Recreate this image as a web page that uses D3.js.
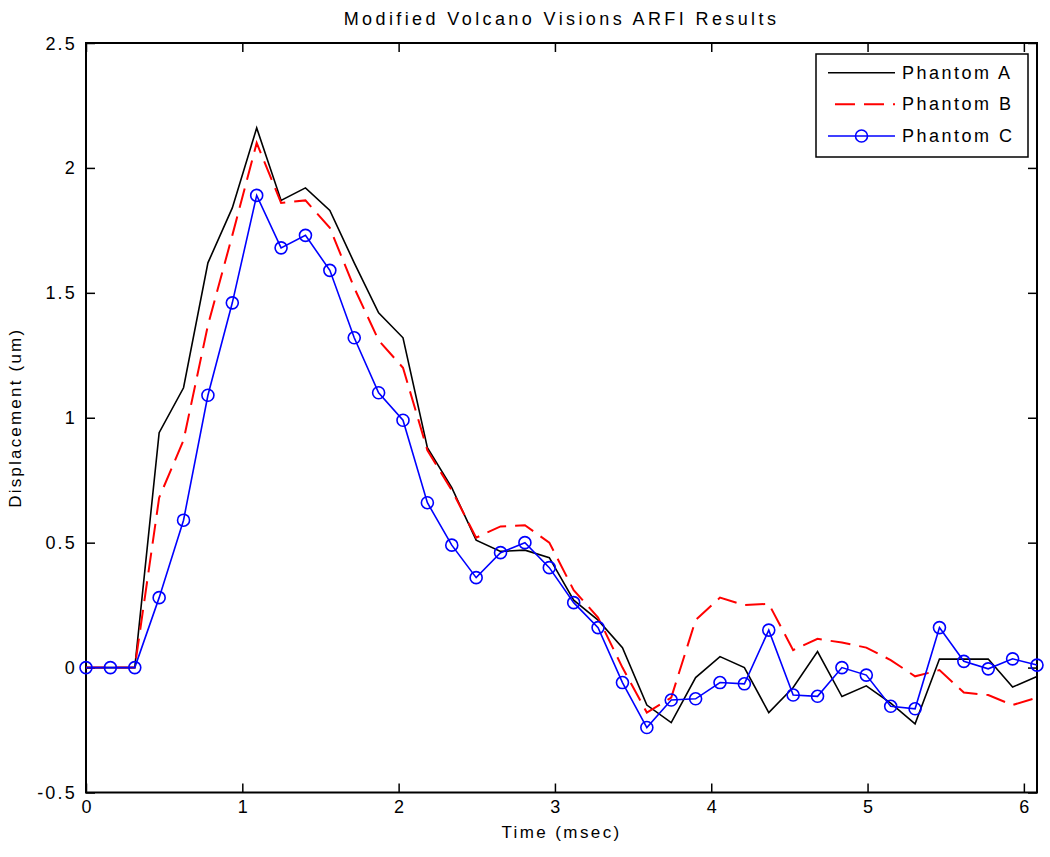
<!DOCTYPE html>
<html>
<head>
<meta charset="utf-8">
<script src="https://cdn.jsdelivr.net/npm/d3@7"></script>
<style>
  html, body { margin: 0; padding: 0; background: #fff; }
  svg text { font-family: "Liberation Sans", Arial, sans-serif; fill: #000; }
</style>
</head>
<body>
<svg id="chart" width="1050" height="857"></svg>
<script>
// ---- Data ----
const times = [0, 0.156, 0.312, 0.468, 0.624, 0.780, 0.936, 1.092, 1.248, 1.404,
  1.560, 1.716, 1.872, 2.028, 2.184, 2.340, 2.496, 2.652, 2.808, 2.964,
  3.120, 3.276, 3.432, 3.588, 3.744, 3.900, 4.056, 4.212, 4.368, 4.524,
  4.680, 4.836, 4.992, 5.148, 5.304, 5.460, 5.616, 5.772, 5.928, 6.084];

const phantomA = [0, 0, 0, 0.94, 1.12, 1.62, 1.84, 2.16, 1.87, 1.92,
  1.83, 1.62, 1.42, 1.32, 0.88, 0.72, 0.51, 0.465, 0.47, 0.44,
  0.27, 0.19, 0.08, -0.15, -0.22, -0.04, 0.044, 0.0, -0.18, -0.08,
  0.064, -0.116, -0.073, -0.142, -0.225, 0.034, 0.034, 0.034, -0.078, -0.036];

const phantomB = [0, 0, 0, 0.68, 0.91, 1.37, 1.73, 2.10, 1.86, 1.87,
  1.76, 1.52, 1.31, 1.20, 0.87, 0.71, 0.52, 0.565, 0.57, 0.50,
  0.31, 0.20, 0.0, -0.18, -0.12, 0.19, 0.28, 0.25, 0.255, 0.07,
  0.115, 0.10, 0.08, 0.03, -0.035, -0.01, -0.10, -0.11, -0.15, -0.12];

const phantomC = [0, 0, 0, 0.28, 0.59, 1.09, 1.46, 1.89, 1.68, 1.73,
  1.59, 1.32, 1.10, 0.99, 0.66, 0.49, 0.36, 0.46, 0.50, 0.40,
  0.26, 0.16, -0.06, -0.24, -0.13, -0.125, -0.06, -0.065, 0.15, -0.11,
  -0.115, 0.0, -0.03, -0.155, -0.165, 0.16, 0.025, -0.005, 0.035, 0.01];

const seriesNames = ["Phantom A", "Phantom B", "Phantom C"];
const xTicks = [0, 1, 2, 3, 4, 5, 6];
const yTicks = [-0.5, 0, 0.5, 1, 1.5, 2, 2.5];
const titleText = "Modified Volcano Visions ARFI Results";
const xLabel = "Time (msec)";
const yLabel = "Displacement (um)";

// ---- Layout ----
const svg = d3.select("#chart");
const L = 86, T = 43, R = 1037, B = 792.5;
const x = d3.scaleLinear().domain([0, 6.084]).range([L, R]);
const y = d3.scaleLinear().domain([-0.5, 2.5]).range([B, T]);
const fontSize = 17, ls = 2.2;

svg.append("rect").attr("width", 1050).attr("height", 857).attr("fill", "#fff");

const fmt = d => String(d); // plain hyphen-minus like the reference

// axes with inward ticks
const tickLen = 9;
const gx = svg.append("g").attr("transform", `translate(0,${B})`)
  .call(d3.axisBottom(x).tickValues(xTicks).tickFormat(fmt)
    .tickSizeInner(-tickLen).tickSizeOuter(0).tickPadding(0));
const gxTop = svg.append("g").attr("transform", `translate(0,${T})`)
  .call(d3.axisTop(x).tickValues(xTicks).tickFormat("")
    .tickSizeInner(-tickLen).tickSizeOuter(0));
const gy = svg.append("g").attr("transform", `translate(${L},0)`)
  .call(d3.axisLeft(y).tickValues(yTicks).tickFormat(fmt)
    .tickSizeInner(-tickLen).tickSizeOuter(0).tickPadding(0));
const gyR = svg.append("g").attr("transform", `translate(${R},0)`)
  .call(d3.axisRight(y).tickValues(yTicks).tickFormat("")
    .tickSizeInner(-tickLen).tickSizeOuter(0));

[gx, gxTop, gy, gyR].forEach(g => {
  g.select(".domain").remove();
  g.selectAll(".tick line").attr("stroke", "#000").attr("stroke-width", 1.5);
  g.selectAll("text").style("font-size", "18px")
    .style("letter-spacing", ls + "px").attr("font-family", null);
});
gx.selectAll(".tick text").attr("y", 0).attr("dy", null)
  .attr("dominant-baseline", "central").attr("transform", "translate(1,14)");
gy.selectAll(".tick text").attr("x", -9).attr("dy", null)
  .attr("dominant-baseline", "central");

// box
svg.append("rect").attr("x", L).attr("y", T).attr("width", R - L).attr("height", B - T)
  .attr("fill", "none").attr("stroke", "#000").attr("stroke-width", 2);

// lines
const pts = vals => vals.map((v, i) => [times[i], v]);
const line = d3.line().x(d => x(d[0])).y(d => y(d[1]));
const plot = svg.append("g");
plot.append("path").attr("d", line(pts(phantomA))).attr("fill", "none")
  .attr("stroke", "#000").attr("stroke-width", 1.6).attr("stroke-linejoin", "miter");
plot.append("path").attr("d", line(pts(phantomB))).attr("fill", "none")
  .attr("stroke", "#ff0000").attr("stroke-width", 2).attr("stroke-dasharray", "20,9");
plot.append("path").attr("d", line(pts(phantomC))).attr("fill", "none")
  .attr("stroke", "#0000ff").attr("stroke-width", 1.6);
plot.selectAll("circle.c").data(pts(phantomC)).join("circle").attr("class", "c")
  .attr("cx", d => x(d[0])).attr("cy", d => y(d[1])).attr("r", 6)
  .attr("fill", "none").attr("stroke", "#0000ff").attr("stroke-width", 1.6);

// title & labels
svg.append("text").attr("x", (L + R) / 2).attr("y", 19).attr("text-anchor", "middle")
  .attr("dominant-baseline", "central").style("font-size", "18px")
  .style("letter-spacing", "3.4px").text(titleText);
svg.append("text").attr("x", (L + R) / 2).attr("y", 832).attr("text-anchor", "middle")
  .attr("dominant-baseline", "central").style("font-size", fontSize + "px")
  .style("letter-spacing", "2.4px").text(xLabel);
svg.append("text").attr("transform", `translate(15,${(T + B) / 2}) rotate(-90)`)
  .attr("text-anchor", "middle").attr("dominant-baseline", "central")
  .style("font-size", fontSize + "px").style("letter-spacing", ls + "px").text(yLabel);

// legend
const lg = svg.append("g");
lg.append("rect").attr("x", 816).attr("y", 54).attr("width", 212).attr("height", 103)
  .attr("fill", "#fff").attr("stroke", "#000").attr("stroke-width", 1.5);
const legendY = [72.7, 104.3, 136];
const styles = [
  { color: "#000", dash: null, w: 1.6, marker: false },
  { color: "#ff0000", dash: "20,9", w: 2, marker: false },
  { color: "#0000ff", dash: null, w: 1.6, marker: true }
];
seriesNames.forEach((name, i) => {
  const s = styles[i];
  const ly = legendY[i];
  const ln = lg.append("line").attr("x1", 828).attr("x2", 895).attr("y1", ly).attr("y2", ly)
    .attr("stroke", s.color).attr("stroke-width", s.w);
  if (s.dash) ln.attr("stroke-dasharray", s.dash).attr("stroke-dashoffset", -7);
  if (s.marker) lg.append("circle").attr("cx", 861.5).attr("cy", ly).attr("r", 6)
    .attr("fill", "none").attr("stroke", s.color).attr("stroke-width", 1.6);
  lg.append("text").attr("x", 902).attr("y", ly).attr("dominant-baseline", "central")
    .style("font-size", "18px").style("letter-spacing", "2.5px").text(name);
});
</script>
</body>
</html>
